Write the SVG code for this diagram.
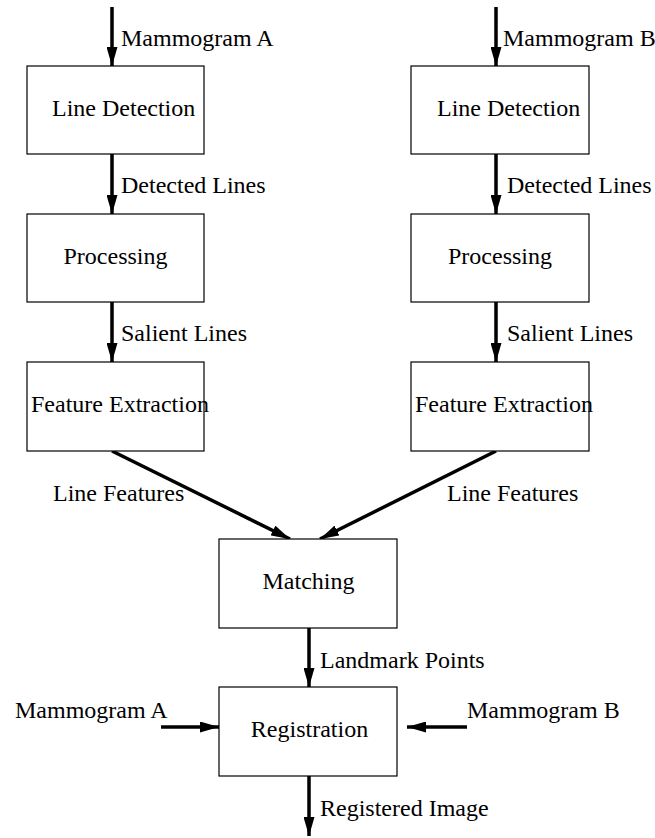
<svg xmlns="http://www.w3.org/2000/svg" width="655" height="838" viewBox="0 0 655 838">
<style>
.box{fill:#fff;stroke:#000;stroke-width:1.2}
.t{font-family:"Liberation Serif","Times New Roman",serif;font-size:24px;fill:#000}
.c{stroke:#000;stroke-width:3.5;fill:none}
</style>
<defs>
<marker id="ah" viewBox="0 0 19 11" refX="19" refY="5.5" markerWidth="19" markerHeight="11" markerUnits="userSpaceOnUse" orient="auto">
<path d="M0,0 L19,5.5 L0,11 z" fill="#000"/>
</marker>
</defs>
<rect width="655" height="838" fill="#fff"/>
<g id="connectors">
<line class="c" x1="112" y1="7" x2="112" y2="66" marker-end="url(#ah)"/>
<line class="c" x1="496" y1="7" x2="496" y2="66" marker-end="url(#ah)"/>
<line class="c" x1="112" y1="154" x2="112" y2="214" marker-end="url(#ah)"/>
<line class="c" x1="496" y1="154" x2="496" y2="214" marker-end="url(#ah)"/>
<line class="c" x1="112" y1="302" x2="112" y2="362" marker-end="url(#ah)"/>
<line class="c" x1="496" y1="302" x2="496" y2="362" marker-end="url(#ah)"/>
<line class="c" x1="112" y1="451" x2="290" y2="539" marker-end="url(#ah)"/>
<line class="c" x1="496" y1="451" x2="320" y2="539" marker-end="url(#ah)"/>
<line class="c" x1="309" y1="628" x2="309" y2="687" marker-end="url(#ah)"/>
<line class="c" x1="161" y1="727" x2="219" y2="727" marker-end="url(#ah)"/>
<line class="c" x1="467" y1="727" x2="407" y2="727" marker-end="url(#ah)"/>
<line class="c" x1="309" y1="776" x2="309" y2="836" marker-end="url(#ah)"/>
<text class="t" x="121" y="46">Mammogram A</text>
<text class="t" x="503" y="46">Mammogram B</text>
<text class="t" x="121" y="193">Detected Lines</text>
<text class="t" x="507" y="193">Detected Lines</text>
<text class="t" x="121" y="341">Salient Lines</text>
<text class="t" x="507" y="341">Salient Lines</text>
<text class="t" x="53" y="501">Line Features</text>
<text class="t" x="447" y="501">Line Features</text>
<text class="t" x="320" y="668">Landmark Points</text>
<text class="t" x="15" y="718">Mammogram A</text>
<text class="t" x="467" y="718">Mammogram B</text>
<text class="t" x="320" y="816">Registered Image</text>
</g>
<g id="ld-a"><rect class="box" x="27" y="66" width="177" height="88"/><text class="t" x="52" y="116">Line Detection</text></g>
<g id="ld-b"><rect class="box" x="411" y="66" width="178" height="88"/><text class="t" x="437" y="116">Line Detection</text></g>
<g id="pr-a"><rect class="box" x="27" y="214" width="177" height="88"/><text class="t" x="115.5" y="264" text-anchor="middle">Processing</text></g>
<g id="pr-b"><rect class="box" x="411" y="214" width="178" height="88"/><text class="t" x="500" y="264" text-anchor="middle">Processing</text></g>
<g id="fe-a"><rect class="box" x="27" y="362" width="177" height="89"/><text class="t" x="31" y="412">Feature Extraction</text></g>
<g id="fe-b"><rect class="box" x="411" y="362" width="178" height="89"/><text class="t" x="415" y="412">Feature Extraction</text></g>
<g id="matching"><rect class="box" x="219" y="539" width="178" height="89"/><text class="t" x="308.5" y="589" text-anchor="middle">Matching</text></g>
<g id="registration"><rect class="box" x="219" y="687" width="178" height="89"/><text class="t" x="309.5" y="737" text-anchor="middle">Registration</text></g>
</svg>
